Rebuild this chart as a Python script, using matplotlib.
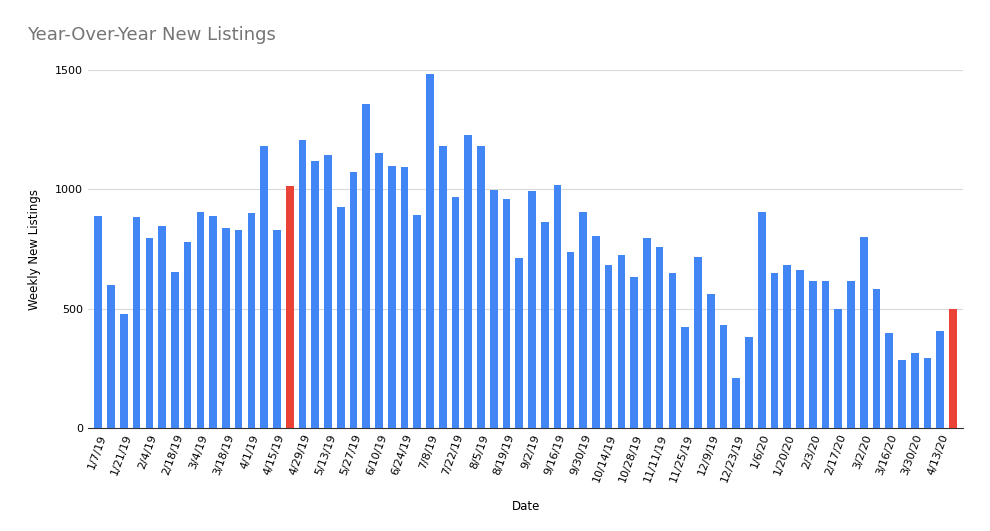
import matplotlib.pyplot as plt
import datetime as dt

start = dt.date(2019, 1, 7)
listings = [890, 600, 478, 885, 795, 845, 655, 780, 905, 890, 838, 830, 900, 1180, 830, 1015,
            1207, 1120, 1143, 925, 1072, 1358, 1152, 1097, 1092, 893, 1485, 1183, 970, 1227,
            1183, 998, 960, 713, 993, 865, 1017, 737, 905, 805, 682, 727, 632, 795, 757, 650,
            423, 718, 560, 432, 210, 383, 905, 650, 683, 662, 615, 618, 500, 615, 800, 582,
            400, 283, 315, 295, 407, 497]
dates = [start + dt.timedelta(weeks=i) for i in range(len(listings))]
labels = [f"{d.month}/{d.day}/{d.year % 100}" for d in dates]
highlight = {"4/22/19", "4/20/20"}

fig = plt.figure(figsize=(9.9, 5.31), dpi=100)
ax = fig.add_axes([0.089, 0.194, 0.884, 0.674])
colors = ['#EA4335' if l in highlight else '#4285F4' for l in labels]
x = range(len(listings))
ax.bar(x, listings, width=0.6, color=colors, zorder=3)

ax.set_ylim(0, 1500)
ax.set_yticks([0, 500, 1000, 1500])
ax.yaxis.grid(True, color='#d9d9d9', linewidth=0.8, zorder=0)
ax.set_xlim(-0.8, len(listings) - 0.2)
ax.set_xticks(list(x)[::2])
ax.set_xticklabels(labels[::2], rotation=70, ha='right', rotation_mode='anchor', fontsize=8)
ax.tick_params(axis='y', labelsize=8, length=0)
ax.tick_params(axis='x', length=0)
for s in ['top', 'right', 'left']:
    ax.spines[s].set_visible(False)
ax.spines['bottom'].set_color('#333333')
ax.set_xlabel('Date', fontsize=8.5, labelpad=12)
ax.set_ylabel('Weekly New Listings', fontsize=8.5, labelpad=10)
fig.text(0.027, 0.925, 'Year-Over-Year New Listings', fontsize=13, color='#757575')

fig.savefig('out.png', dpi=100)
